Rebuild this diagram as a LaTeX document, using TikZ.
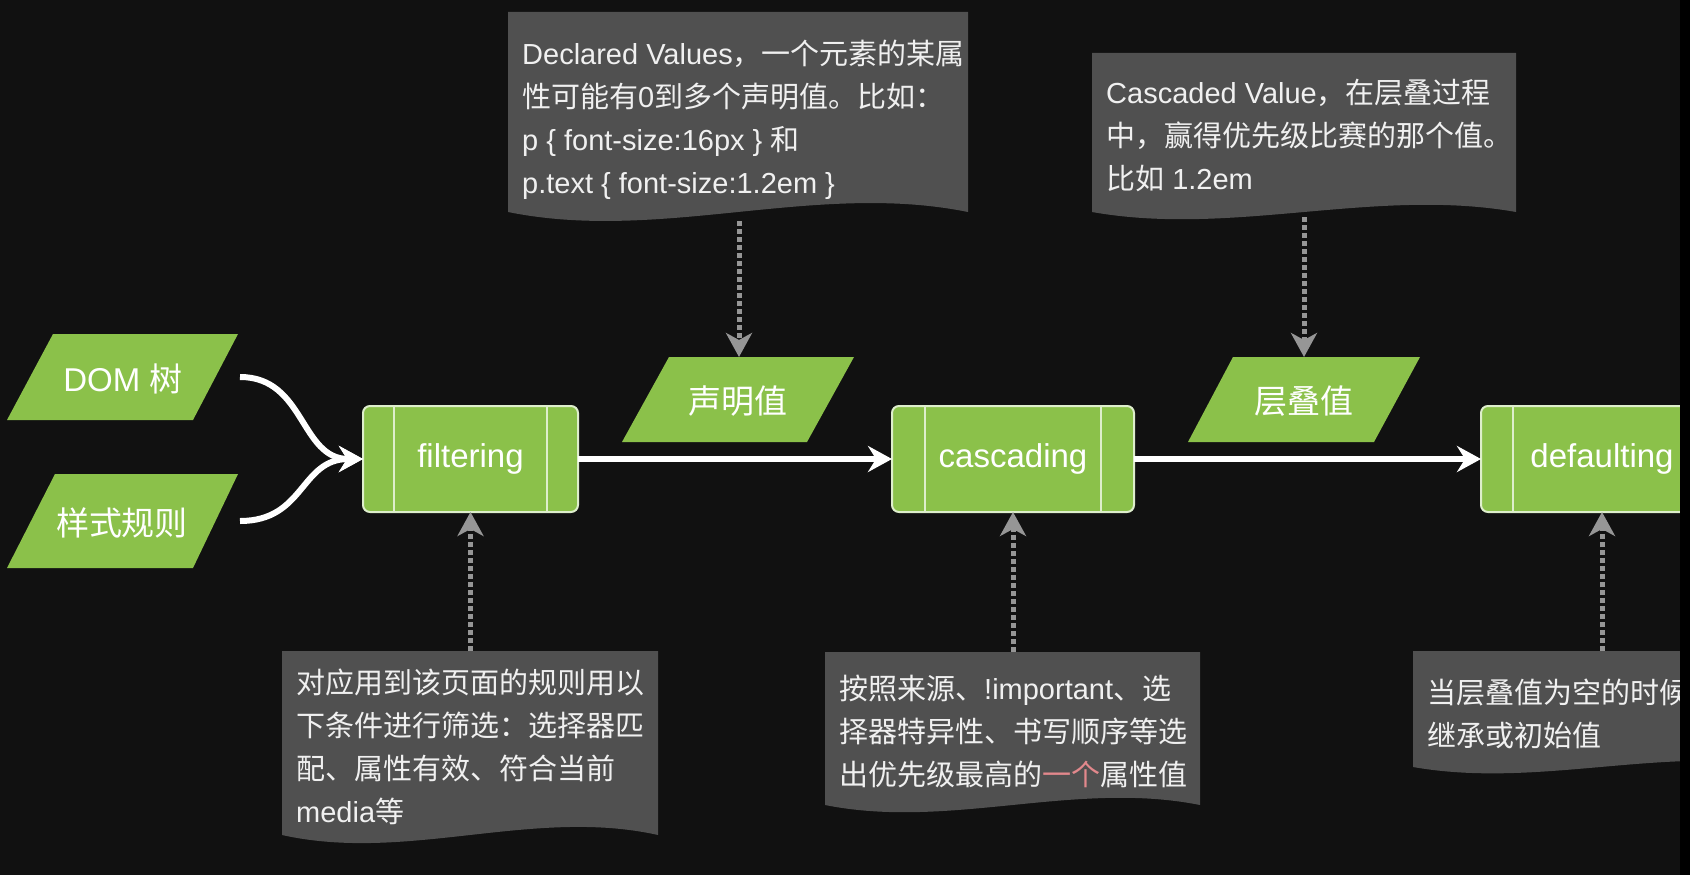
\documentclass[tikz,border=0pt]{standalone}
\usepackage{fontspec}
\setmainfont{Liberation Sans}
\newfontfamily\cjk{Noto Sans CJK SC}
\usetikzlibrary{arrows.meta}
\definecolor{bg}{RGB}{17,17,17}
\definecolor{leaf}{RGB}{139,193,74}
\definecolor{leafline}{RGB}{222,238,204}
\definecolor{notefill}{RGB}{80,80,80}
\definecolor{dotgrey}{RGB}{150,150,150}
\definecolor{rose}{RGB}{226,136,140}
\newcommand\notebg[5]{% L R T B k
  \fill[notefill] (#1,#3) -- (#2,#3) -- (#2,#4)
    .. controls ({#2-(#2-#1)/3},{#4-#5}) and ({#1+(#2-#1)/3},{#4+#5}) .. (#1,#4) -- cycle;}
\begin{document}
\begin{tikzpicture}[x=1pt,y=-1pt,
  lbl/.style={text=white, font=\fontsize{33}{40}\selectfont, inner sep=0pt},
  procbox/.style={fill=leaf, draw=leafline, line width=2pt, rounded corners=7pt,
    minimum height=106pt, inner sep=0pt, outer sep=0pt, text=white,
    font=\fontsize{33}{40}\selectfont},
  divider/.style={draw=leafline, line width=2pt},
  notetext/.style={text=white!94!black, font=\fontsize{29}{43}\selectfont,
    align=left, inner sep=0pt, anchor=north west},
  flow/.style={draw=white, line width=6pt, -{Stealth[length=24pt,width=26pt,inset=8pt]}},
  hint/.style={draw=dotgrey, line width=5pt, dash pattern=on 5pt off 3pt,
    -{Stealth[length=24pt,width=26pt,inset=7pt]}},
]
\fill[bg] (0,0) rectangle (1690,875);
\begin{scope}
\clip (0,0) rectangle (1680,875);

% note backgrounds
\notebg{508}{968}{12}{212}{31}
\notebg{1092}{1516}{53}{212}{25}
\notebg{282}{658}{651}{835}{28}
\notebg{825}{1200}{652}{805}{25}
\notebg{1413}{1788}{651}{767}{22}

% parallelograms
\fill[leaf] (53,334) -- (238,334) -- (193,420) -- (7,420) -- cycle;
\fill[leaf] (55,474) -- (238,474) -- (193,568) -- (7,568) -- cycle;
\fill[leaf] (669,357) -- (854,357) -- (807,442) -- (622,442) -- cycle;
\fill[leaf] (1233,357) -- (1420,357) -- (1374,442) -- (1188,442) -- cycle;

\node[lbl] (dom) at (123,379) {DOM {\cjk 树}};
\node[lbl] (rules) at (122,523) {{\cjk 样式规则}};
\node[lbl] (declv) at (738,401) {{\cjk 声明值}};
\node[lbl] (cascv) at (1304,401) {{\cjk 层叠值}};

% process boxes
\node[procbox, minimum width=215pt] (filter) at (470.5,459) {filtering};
\node[procbox, minimum width=242pt] (cascade) at (1013,459) {cascading};
\node[procbox, minimum width=242pt] (default) at (1602,459) {defaulting};
\foreach \b/\d in {filter/31, cascade/33, default/32}{
  \draw[divider] ([xshift=\d pt]\b.north west) -- ([xshift=\d pt]\b.south west);
  \draw[divider] ([xshift=-\d pt]\b.north east) -- ([xshift=-\d pt]\b.south east);
}

% note texts
\node[notetext] (decltxt) at (522,40) {Declared Values{\cjk ，一个元素的某属}\\{\cjk 性可能有}0{\cjk 到多个声明值。比如：}\\p \{ font-size:16px \} {\cjk 和}\\p.text \{ font-size:1.2em \}};
\node[notetext] (casctxt) at (1106,79) {Cascaded Value{\cjk ，在层叠过程}\\{\cjk 中，赢得优先级比赛的那个值。}\\{\cjk 比如} 1.2em};
\node[notetext] (filttxt) at (296,669) {{\cjk 对应用到该页面的规则用以}\\{\cjk 下条件进行筛选：选择器匹}\\{\cjk 配、属性有效、符合当前}\\media{\cjk 等}};
\node[notetext] (cascnote) at (839,675) {{\cjk 按照来源、}!important{\cjk 、选}\\{\cjk 择器特异性、书写顺序等选}\\{\cjk 出优先级最高的\textcolor{rose}{一个}属性值}};
\node[notetext] (defnote) at (1427,679) {{\cjk 当层叠值为空的时候}\\{\cjk 继承或初始值}};

% coordinates for free ends
\coordinate (domout) at (240,377);
\coordinate (rulesout) at (240,521);
\coordinate (declbot) at (739,221);
\coordinate (declvtop) at (739,357);
\coordinate (cascbot) at (1304,217);
\coordinate (cascvtop) at (1304,357);
\coordinate (fnotetop) at (470.5,651);
\coordinate (cnotetop) at (1013,652);
\coordinate (dnotetop) at (1602,651);

% connectors
\draw[flow] (domout) .. controls (305,377) and (300,459) .. (filter.west);
\draw[flow] (rulesout) .. controls (305,521) and (300,459) .. (filter.west);
\draw[flow] (filter.east) -- (cascade.west);
\draw[flow] (cascade.east) -- (default.west);
\draw[hint] (declbot) -- (declvtop);
\draw[hint] (cascbot) -- (cascvtop);
\draw[hint] (fnotetop) -- (filter.south);
\draw[hint] (cnotetop) -- (cascade.south);
\draw[hint] (dnotetop) -- (default.south);
\end{scope}
\fill[black] (1680,0) rectangle (1690,875);
\end{tikzpicture}
\end{document}
